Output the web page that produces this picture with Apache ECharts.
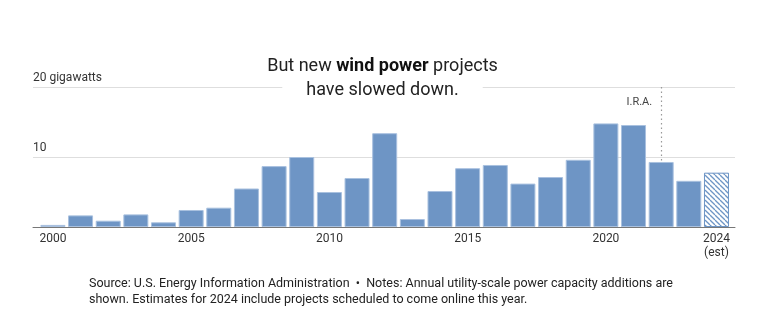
<!DOCTYPE html>
<html>
<head>
<meta charset="utf-8">
<script src="https://cdn.jsdelivr.net/npm/echarts@6/dist/echarts.min.js"></script>
<style>
  html, body { margin: 0; padding: 0; background: #fff; }
  #chart { width: 765px; height: 323px; }
</style>
</head>
<body>
<div id="chart"></div>
<script>
// Annual utility-scale wind capacity additions (gigawatts)
const years = [2000, 2001, 2002, 2003, 2004, 2005, 2006, 2007, 2008, 2009,
               2010, 2011, 2012, 2013, 2014, 2015, 2016, 2017, 2018, 2019,
               2020, 2021, 2022, 2023, 2024];
const additions = [0.3, 1.66, 0.9, 1.8, 0.67, 2.43, 2.76, 5.5, 8.7, 10.0,
                   5.0, 7.0, 13.4, 1.14, 5.14, 8.4, 8.86, 6.2, 7.14, 9.6,
                   14.8, 14.57, 9.29, 6.6, 7.76];
const estimatedYears = [2024];
const xTickYears = [2000, 2005, 2010, 2015, 2020, 2024];
const yTicks = [0, 10, 20];
const iraYear = 2022;

const BLUE = '#6e95c5';
const FONT = 'Roboto, "Noto Sans", sans-serif';

// diagonal hatch for estimated values
function hatchPattern() {
  const s = 5;
  const c = document.createElement('canvas');
  c.width = s; c.height = s;
  const ctx = c.getContext('2d');
  ctx.fillStyle = '#fff';
  ctx.fillRect(0, 0, s, s);
  ctx.strokeStyle = BLUE;
  ctx.lineWidth = 1.3;
  for (const x of [-s, 0, s]) {
    ctx.beginPath();
    ctx.moveTo(x, 0);
    ctx.lineTo(x + s, s);
    ctx.stroke();
  }
  return c;
}
const hatch = hatchPattern();

const barData = years.map((y, i) => {
  const item = { value: [y, additions[i]] };
  if (estimatedYears.includes(y)) {
    item.itemStyle = { color: { image: hatch, repeat: 'repeat' }, borderColor: BLUE, borderWidth: 1 };
  }
  return item;
});
const iraValue = additions[years.indexOf(iraYear)];

const chart = echarts.init(document.getElementById('chart'), null, { renderer: 'canvas' });
chart.setOption({
  animation: false,
  backgroundColor: '#fff',
  title: {
    left: 'center',
    top: 49,
    text: '{a|But new }{b|wind power}{a| projects}\n{c|have slowed down.}',
    textStyle: {
      fontWeight: 'normal',
      rich: {
        a: { fontFamily: FONT, fontSize: 18, color: '#222', fontWeight: 'normal', lineHeight: 24 },
        b: { fontFamily: FONT, fontSize: 18, color: '#111', fontWeight: 'bold', lineHeight: 24 },
        c: { fontFamily: FONT, fontSize: 18, color: '#222', fontWeight: 'normal', lineHeight: 24,
             backgroundColor: '#fff', padding: [0, 24, 0, 24] }
      }
    }
  },
  grid: { left: 33, right: 30, top: 87, bottom: 96, containLabel: false },
  xAxis: {
    type: 'value',
    min: 1999.28,
    max: 2024.67,
    splitLine: { show: false },
    axisTick: { show: false },
    axisLine: { show: true, onZero: false, lineStyle: { color: '#777', width: 1 } },
    axisLabel: {
      customValues: xTickYears,
      margin: 5,
      fontFamily: FONT,
      fontSize: 12,
      color: '#333',
      lineHeight: 14,
      formatter: v => estimatedYears.includes(v) ? v + '\n(est)' : String(v)
    }
  },
  yAxis: {
    type: 'value',
    min: 0,
    max: 20,
    interval: 10,
    axisLine: { show: false },
    axisTick: { show: false },
    splitLine: { show: true, lineStyle: { color: '#dedede', width: 1 } },
    axisLabel: {
      inside: true,
      margin: 0,
      verticalAlign: 'bottom',
      padding: [0, 0, 3, 0],
      fontFamily: FONT,
      fontSize: 12,
      color: '#333',
      formatter: v => v === 0 ? '' : (v === 20 ? '20 gigawatts' : String(v))
    }
  },
  series: [{
    type: 'bar',
    barWidth: 25,
    data: barData,
    itemStyle: { color: BLUE, borderColor: '#a9c1df', borderWidth: 1 },
    markLine: {
      silent: true,
      symbol: 'none',
      label: { show: false },
      lineStyle: { color: '#999', type: [1.5, 3], width: 1.2 },
      data: [[{ coord: [iraYear, 20] }, { coord: [iraYear, iraValue] }]]
    },
    markPoint: {
      silent: true,
      symbolSize: 0,
      data: [{ coord: [iraYear, 17.76] }],
      label: {
        show: true,
        position: 'left',
        distance: 9,
        formatter: 'I.R.A.',
        fontFamily: FONT,
        fontSize: 11,
        color: '#444'
      }
    }
  }],
  graphic: [{
    type: 'text',
    left: 89,
    top: 276,
    style: {
      text: 'Source: U.S. Energy Information Administration  •  Notes: Annual utility-scale power capacity additions are\nshown. Estimates for 2024 include projects scheduled to come online this year.',
      font: '12.5px ' + FONT,
      fill: '#222',
      lineHeight: 16
    }
  }]
});
</script>
</body>
</html>
